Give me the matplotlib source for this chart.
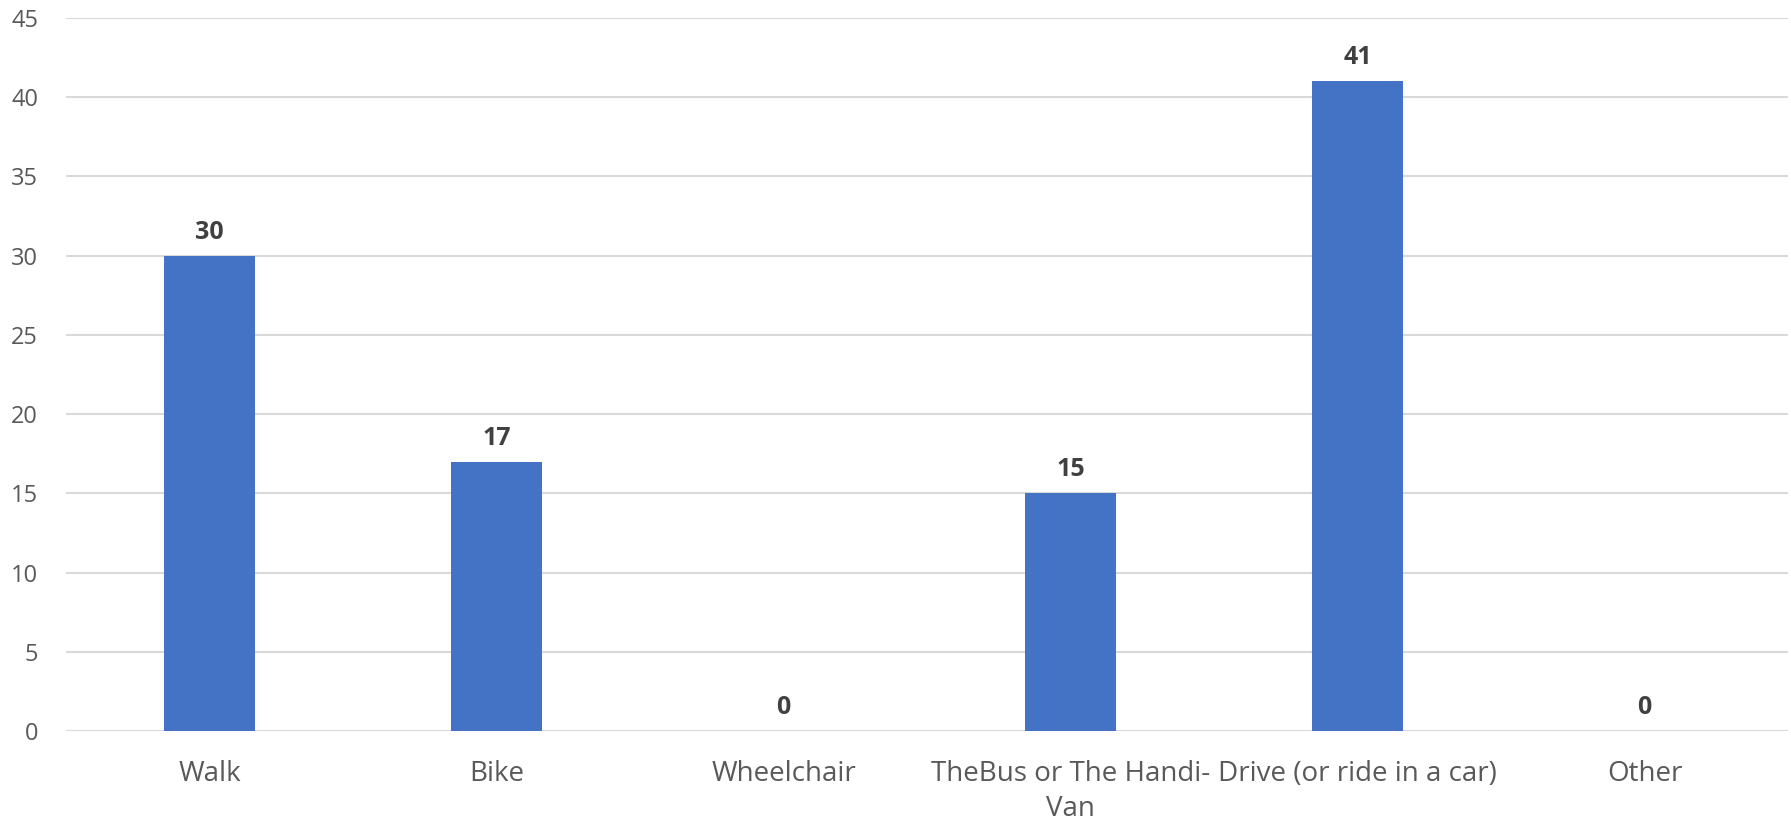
import matplotlib
matplotlib.use("Agg")
import matplotlib.pyplot as plt

categories = ["Walk", "Bike", "Wheelchair", "TheBus or The Handi-\nVan", "Drive (or ride in a car)", "Other"]
values = [30, 17, 0, 15, 41, 0]
yticks = [0, 5, 10, 15, 20, 25, 30, 35, 40, 45]

plt.rcParams['font.family'] = ['Open Sans', 'DejaVu Sans']

fig = plt.figure(figsize=(17.91, 8.23), dpi=100)
ax = fig.add_axes([66/1791, (823-731)/823, (1788-66)/1791, (731-18)/823])

x = list(range(len(categories)))
ax.bar(x, values, width=0.314, color="#4472C4", zorder=3)
for xi, v in zip(x, values):
    ax.annotate(str(v), (xi, v), xytext=(0, 8), textcoords="offset points",
                ha="center", va="bottom", fontsize=18, fontweight="bold", color="#404040")

ax.set_xlim(-0.5, len(categories) - 0.5)
ax.set_ylim(0, 45)
ax.set_yticks(yticks)
ax.set_xticks(x)
ax.set_xticklabels(categories, linespacing=1.32)
ax.tick_params(axis="y", length=0, pad=20, labelsize=17, labelcolor="#595959")
ax.tick_params(axis="x", length=0, pad=21, labelsize=20, labelcolor="#595959")
ax.yaxis.grid(True, color="#d9d9d9", linewidth=1.5, zorder=0)
ax.set_axisbelow(True)
for s in ax.spines.values():
    s.set_visible(False)

fig.savefig("out.png", dpi=100)
